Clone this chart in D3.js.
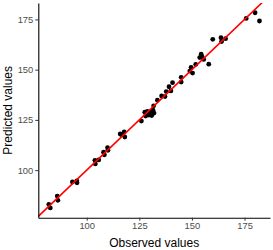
<!DOCTYPE html>
<html>
<head>
<meta charset="utf-8">
<script src="https://cdn.jsdelivr.net/npm/d3@7"></script>
<style>
  html, body { margin: 0; padding: 0; background: #fff; }
  svg { display: block; font-family: "Liberation Sans", Arial, sans-serif; }
</style>
</head>
<body>
<svg id="chart" width="273" height="250"></svg>
<script>
const observed = [82.0, 82.7, 86.0, 86.3, 93.2, 95.3, 95.4, 103.9, 104.1, 105.7,
  108.0, 108.4, 109.9, 110.1, 115.9, 116.5, 117.8, 118.1, 126.0, 127.6,
  128.0, 128.8, 129.5, 130.4, 130.9, 131.5, 131.8, 132.0, 133.6, 135.6,
  137.2, 137.8, 139.1, 140.0, 140.8, 144.9, 144.9, 149.0, 149.6, 150.3,
  151.8, 153.7, 154.4, 154.8, 155.6, 158.0, 159.9, 163.8, 164.1, 166.0,
  175.8, 180.0, 182.1];
const predicted = [83.0, 81.2, 87.1, 85.0, 94.1, 94.7, 93.7, 104.9, 103.1, 105.1,
  108.9, 107.6, 111.2, 109.9, 118.0, 117.6, 119.0, 116.5, 124.4, 128.8,
  126.9, 129.2, 127.4, 128.7, 127.2, 129.8, 132.0, 128.4, 134.8, 136.9,
  136.6, 139.1, 141.5, 139.4, 143.5, 146.2, 143.8, 149.3, 151.1, 148.3,
  152.6, 156.0, 157.7, 156.4, 155.1, 152.7, 165.1, 165.9, 164.0, 165.4,
  175.5, 178.3, 174.2];
const xTicks = [100, 125, 150, 175];
const yTicks = [100, 125, 150, 175];
const xLabel = "Observed values";
const yLabel = "Predicted values";

const svg = d3.select("#chart");
const pLeft = 38.3, pRight = 270, pTop = 3, pBottom = 217.7;

function expand(arr) {
  const [a, b] = d3.extent(arr);
  const pad = (b - a) * 0.05;
  return [a - pad, b + pad];
}
const x = d3.scaleLinear().domain(expand(observed)).range([pLeft, pRight]);
const y = d3.scaleLinear().domain(expand(predicted)).range([pBottom, pTop]);

const data = observed.map((o, i) => ({ o, p: predicted[i] }));

// points
svg.append("g").selectAll("circle").data(data).join("circle")
  .attr("cx", d => x(d.o)).attr("cy", d => y(d.p)).attr("r", 2.4)
  .attr("fill", "#000");

// identity line y = x clipped to panel
svg.append("clipPath").attr("id", "clip").append("rect")
  .attr("x", pLeft).attr("y", pTop).attr("width", pRight - pLeft).attr("height", pBottom - pTop);
const xd = x.domain();
svg.append("line").attr("clip-path", "url(#clip)")
  .attr("x1", x(xd[0])).attr("y1", y(xd[0]))
  .attr("x2", x(xd[1])).attr("y2", y(xd[1]))
  .attr("stroke", "#FF0000").attr("stroke-width", 1.6);

// axes
const xAxis = svg.append("g").attr("transform", `translate(0,${pBottom})`)
  .call(d3.axisBottom(x).tickValues(xTicks).tickSize(3).tickPadding(2).tickSizeOuter(0));
const yAxis = svg.append("g").attr("transform", `translate(${pLeft},0)`)
  .call(d3.axisLeft(y).tickValues(yTicks).tickSize(3).tickPadding(2).tickSizeOuter(0));
[xAxis, yAxis].forEach(g => {
  g.select(".domain").attr("stroke", "#000").attr("stroke-width", 1.1);
  g.selectAll(".tick line").attr("stroke", "#333").attr("stroke-width", 1);
  g.selectAll(".tick text").attr("fill", "#4D4D4D").style("font-size", "9.4px")
    .style("font-family", "'Liberation Sans', Arial, sans-serif");
});

svg.append("text").attr("x", (pLeft + pRight) / 2).attr("y", 247)
  .attr("text-anchor", "middle").style("font-size", "12px").attr("fill", "#000")
  .text(xLabel);
svg.append("text").attr("transform", `translate(12.3,${(pTop + pBottom) / 2}) rotate(-90)`)
  .attr("text-anchor", "middle").style("font-size", "12px").attr("fill", "#000")
  .text(yLabel);
</script>
</body>
</html>
